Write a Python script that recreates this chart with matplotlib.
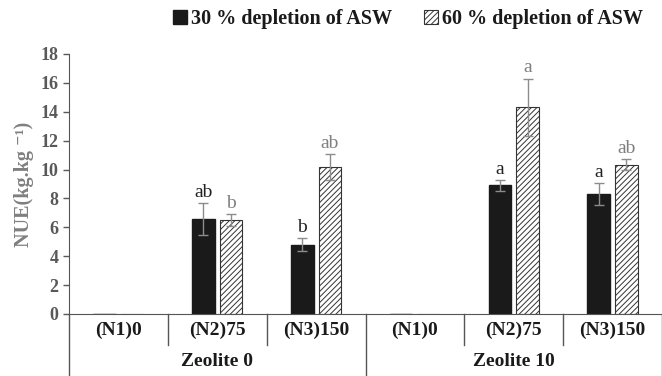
import matplotlib
matplotlib.use("Agg")
import matplotlib.pyplot as plt
import matplotlib.transforms as mtrans
import numpy as np

plt.rcParams['font.family'] = ['Liberation Serif', 'DejaVu Serif']
plt.rcParams['hatch.linewidth'] = 0.7

groups = ["Zeolite 0", "Zeolite 10"]
levels = ["(N1)0", "(N2)75", "(N3)150"]
series = ["30 % depletion of ASW", "60 % depletion of ASW"]
vals30 = [0, 6.6, 4.8, 0, 8.9, 8.3]
err30 = [0, 1.1, 0.45, 0, 0.4, 0.75]
vals60 = [0, 6.5, 10.2, 0, 14.3, 10.35]
err60 = [0, 0.4, 0.9, 0, 2.0, 0.35]
lab30 = ["", "ab", "b", "", "a", "a"]
lab60 = ["", "b", "ab", "", "a", "ab"]

fig = plt.figure(figsize=(6.62, 3.76), dpi=100)
ax = fig.add_axes([69/662, 62/376, (662-69)/662, 260/376])

x = np.arange(6) + 0.5
w = 0.23
off = 0.14
gray = '#8c8c8c'
b1 = ax.bar(x - off, vals30, w, color='#1a1a1a', edgecolor='#1a1a1a', label=series[0], zorder=2)
b2 = ax.bar(x + off, vals60, w, color='white', edgecolor='#333333', hatch='//////', linewidth=0.8, label=series[1], zorder=2)
for i in range(6):
    if vals30[i] > 0:
        ax.errorbar(x[i] - off, vals30[i], yerr=err30[i], color=gray, capsize=3.5, lw=1, capthick=1, zorder=3)
        ax.text(x[i] - off, vals30[i] + err30[i] + 0.15, lab30[i], ha='center', va='bottom', fontsize=14, color='#222222')
    if vals60[i] > 0:
        ax.errorbar(x[i] + off, vals60[i], yerr=err60[i], color=gray, capsize=3.5, lw=1, capthick=1, zorder=3)
        ax.text(x[i] + off, vals60[i] + err60[i] + 0.15, lab60[i], ha='center', va='bottom', fontsize=14, color='#7f7f7f')

ax.set_xlim(0, 6)
ax.set_ylim(0, 18)
ax.set_yticks(range(0, 19, 2))
ax.tick_params(axis='y', colors='#595959', labelsize=13, length=4, width=1, direction='out')
for t in ax.get_yticklabels():
    t.set_fontweight('bold')
ax.set_xticks([])
for s in ['top', 'right']:
    ax.spines[s].set_visible(False)
ax.spines['left'].set_color('#555555')
ax.spines['bottom'].set_color('#555555')
ax.set_ylabel('NUE(kg.kg \u207b\u00b9)', fontsize=14.5, fontweight='bold', color='#7f7f7f', labelpad=5)

trans = mtrans.blended_transform_factory(ax.transData, ax.transAxes)
py = 1/260
for i in range(7):
    ybot = -62*py if i in (0, 3, 6) else -31*py
    ax.plot([i, i], [0, ybot], transform=trans, color='#555555', lw=1, clip_on=False)
for i in range(6):
    ax.text(x[i], -16*py, levels[i % 3], transform=trans, ha='center', va='center',
            fontsize=14, fontweight='bold', color='#1a1a1a')
for g in range(2):
    ax.text(1.5 + 3*g, -48*py, groups[g], transform=trans, ha='center', va='center',
            fontsize=14, fontweight='bold', color='#1a1a1a')

leg = fig.legend(handles=[b1, b2], labels=series, loc='center', bbox_to_anchor=(408/662, 1 - 19/376),
                 ncol=2, frameon=False, prop={'weight': 'bold', 'size': 14.5},
                 handlelength=0.7, handleheight=0.7, handletextpad=0.2, columnspacing=1.6)
for t in leg.get_texts():
    t.set_color('#1a1a1a')

fig.savefig('out.png', dpi=100)
